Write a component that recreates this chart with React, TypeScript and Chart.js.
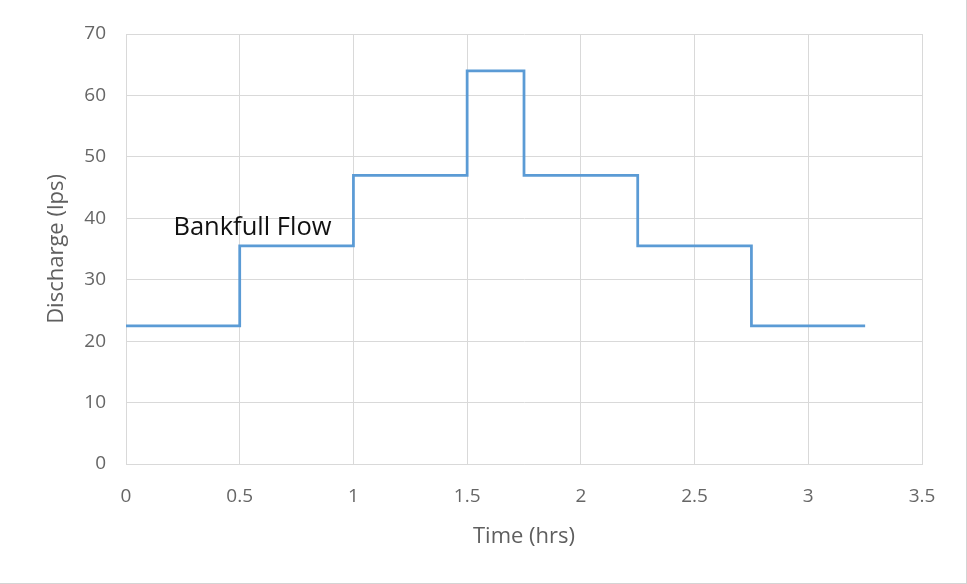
import React, { useEffect, useRef } from "react";
import { Chart, registerables } from "chart.js";

Chart.register(...registerables);

const timeHrs = [0, 0.5, 1, 1.5, 1.75, 2.25, 2.75, 3.25];
const dischargeLps = [22.5, 35.5, 47, 64, 47, 35.5, 22.5, 22.5];
const xTickValues = [0, 0.5, 1, 1.5, 2, 2.5, 3, 3.5];
const yTickValues = [0, 10, 20, 30, 40, 50, 60, 70];
const annotationText = "Bankfull Flow";
const annotationX = 0.556;
const annotationY = 37.3;

const FONT = "'Open Sans', 'Noto Sans', sans-serif";

const annotationPlugin = {
  id: "bankfullLabel",
  afterDatasetsDraw(chart: any) {
    const { ctx, scales } = chart;
    const px = scales.x.getPixelForValue(annotationX);
    const py = scales.y.getPixelForValue(annotationY);
    ctx.save();
    ctx.font = `25.5px ${FONT}`;
    ctx.fillStyle = "#111111";
    ctx.textAlign = "center";
    ctx.textBaseline = "alphabetic";
    ctx.fillText(annotationText, px, py);
    ctx.restore();
  },
};

export default function App() {
  const ref = useRef<HTMLCanvasElement | null>(null);

  useEffect(() => {
    document.body.style.margin = "0";
    if (!ref.current) return;
    const points = timeHrs.map((t, i) => ({ x: t, y: dischargeLps[i] }));
    const chart = new Chart(ref.current, {
      type: "scatter",
      data: {
        datasets: [
          {
            data: points,
            showLine: true,
            stepped: true,
            borderColor: "#5B9BD5",
            backgroundColor: "#5B9BD5",
            borderWidth: 2.75,
            pointRadius: 0,
            fill: false,
          } as any,
        ],
      },
      options: {
        animation: false,
        responsive: false,
        maintainAspectRatio: false,
        layout: { padding: { left: 0, top: 34, right: 44, bottom: 0 } },
        plugins: {
          legend: { display: false },
          tooltip: { enabled: false },
        },
        scales: {
          x: {
            type: "linear",
            min: 0,
            max: 3.5,
            afterBuildTicks: (scale: any) => {
              scale.ticks = xTickValues.map((v) => ({ value: v }));
            },
            afterFit: (scale: any) => {
              scale.height = 119;
            },
            grid: { color: "#d9d9d9", drawTicks: false, lineWidth: 1 },
            border: { color: "#d9d9d9" },
            ticks: {
              padding: 21,
              color: "#666666",
              font: { family: FONT, size: 19 },
              maxRotation: 0,
              callback: (v: any) => String(v),
            },
            title: {
              display: true,
              text: "Time (hrs)",
              color: "#5f5f5f",
              font: { family: FONT, size: 22 },
              padding: { top: 0, bottom: 33 },
            },
          },
          y: {
            type: "linear",
            min: 0,
            max: 70,
            afterBuildTicks: (scale: any) => {
              scale.ticks = yTickValues.map((v) => ({ value: v }));
            },
            afterFit: (scale: any) => {
              scale.width = 126;
            },
            grid: { color: "#d9d9d9", drawTicks: false, lineWidth: 1 },
            border: { color: "#d9d9d9" },
            ticks: {
              padding: 20,
              color: "#666666",
              font: { family: FONT, size: 19 },
              callback: (v: any) => String(v),
            },
            title: {
              display: true,
              text: "Discharge (lps)",
              color: "#5f5f5f",
              font: { family: FONT, size: 22 },
              padding: { top: 44, bottom: 0 },
            },
          },
        },
      },
      plugins: [annotationPlugin],
    });
    return () => chart.destroy();
  }, []);

  return (
    <div
      style={{
        position: "absolute",
        left: 0,
        top: 0,
        width: 966,
        height: 583,
        borderRight: "1px solid #d4d4d4",
        borderBottom: "1px solid #d4d4d4",
        background: "#ffffff",
      }}
    >
      <canvas ref={ref} width={966} height={583} style={{ display: "block" }} />
    </div>
  );
}
